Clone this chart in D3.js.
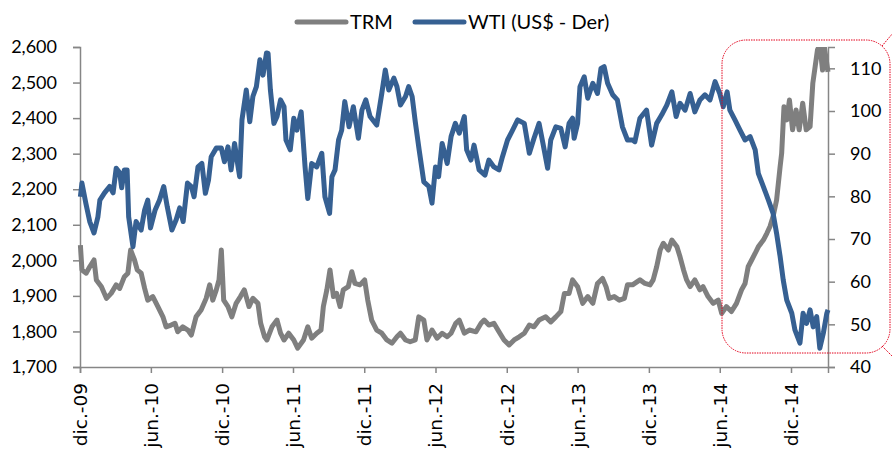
<!DOCTYPE html>
<html>
<head>
<meta charset="utf-8">
<script src="https://cdn.jsdelivr.net/npm/d3@7"></script>
<style>
  body { margin: 0; background: #fff; }
  text { font-family: Lato, "Noto Sans", sans-serif; }
</style>
</head>
<body>
<div id="chart"></div>
<script>
// TRM (COP per US$, left axis)
const trmDates = ["2009-12-02","2009-12-06","2009-12-17","2009-12-26","2010-01-06","2010-01-12","2010-01-25","2010-02-07","2010-02-19","2010-03-04","2010-03-13","2010-03-25","2010-04-03","2010-04-10","2010-04-20","2010-04-27","2010-05-07","2010-05-16","2010-05-24","2010-06-06","2010-06-19","2010-07-02","2010-07-10","2010-07-23","2010-08-02","2010-08-09","2010-08-22","2010-09-04","2010-09-13","2010-09-25","2010-10-08","2010-10-21","2010-10-30","2010-11-07","2010-11-16","2010-11-23","2010-11-29","2010-12-05","2010-12-16","2010-12-26","2011-01-06","2011-01-17","2011-01-27","2011-02-08","2011-02-18","2011-03-03","2011-03-10","2011-03-20","2011-03-26","2011-04-08","2011-04-21","2011-04-30","2011-05-09","2011-05-21","2011-06-03","2011-06-13","2011-06-28","2011-07-09","2011-07-19","2011-08-01","2011-08-12","2011-08-18","2011-08-27","2011-09-04","2011-09-13","2011-09-21","2011-09-30","2011-10-08","2011-10-21","2011-10-30","2011-11-07","2011-11-20","2011-12-02","2011-12-10","2011-12-20","2012-01-02","2012-01-15","2012-01-28","2012-02-10","2012-02-23","2012-03-03","2012-03-16","2012-03-28","2012-04-10","2012-04-19","2012-05-02","2012-05-10","2012-05-23","2012-06-05","2012-06-18","2012-07-01","2012-07-11","2012-07-23","2012-08-01","2012-08-14","2012-08-27","2012-09-13","2012-09-26","2012-10-04","2012-10-16","2012-10-29","2012-11-11","2012-11-24","2012-12-07","2012-12-20","2013-01-02","2013-01-15","2013-01-28","2013-02-09","2013-02-22","2013-03-11","2013-03-24","2013-04-06","2013-04-19","2013-04-28","2013-05-10","2013-05-19","2013-06-01","2013-06-14","2013-06-27","2013-07-10","2013-07-22","2013-08-04","2013-08-13","2013-08-21","2013-09-03","2013-09-16","2013-09-29","2013-10-07","2013-10-20","2013-11-08","2013-11-21","2013-12-04","2013-12-12","2013-12-21","2013-12-30","2014-01-07","2014-01-20","2014-01-29","2014-02-11","2014-02-19","2014-02-28","2014-03-08","2014-03-17","2014-03-29","2014-04-11","2014-04-19","2014-05-02","2014-05-15","2014-05-28","2014-06-06","2014-06-18","2014-07-01","2014-07-14","2014-07-27","2014-08-05","2014-08-13","2014-08-22","2014-08-31","2014-09-08","2014-09-21","2014-09-30","2014-10-08","2014-10-16","2014-10-25","2014-11-03","2014-11-07","2014-11-13","2014-11-20","2014-11-27","2014-12-05","2014-12-14","2014-12-22","2014-12-31","2015-01-09","2015-01-19","2015-01-26","2015-02-01","2015-02-07","2015-02-13","2015-02-20","2015-02-24","2015-03-06"];
const trmValues = [2043,1973,1964,1982,2001,1945,1926,1893,1907,1931,1921,1954,1964,2029,2001,1973,1964,1921,1888,1898,1870,1841,1813,1818,1823,1799,1813,1804,1790,1841,1860,1893,1931,1888,1917,1945,2029,1888,1870,1841,1879,1898,1917,1870,1893,1879,1823,1785,1776,1813,1832,1795,1776,1795,1776,1753,1776,1813,1781,1795,1804,1870,1917,1973,1898,1907,1870,1917,1926,1968,1935,1931,1945,1888,1832,1804,1795,1776,1767,1785,1795,1776,1771,1776,1841,1832,1776,1804,1781,1795,1785,1795,1823,1832,1795,1804,1799,1823,1832,1818,1823,1799,1776,1762,1776,1785,1795,1818,1813,1832,1841,1827,1841,1856,1907,1907,1945,1926,1879,1898,1879,1935,1949,1926,1893,1898,1888,1893,1931,1931,1945,1935,1931,1945,1982,2029,2048,2029,2057,2038,2010,1973,1945,1926,1945,1917,1926,1898,1879,1888,1851,1870,1856,1879,1917,1935,1982,2001,2020,2038,2057,2076,2095,2123,2170,2263,2301,2432,2395,2451,2367,2423,2367,2442,2367,2376,2498,2545,2592,2606,2535,2605,2530];

// WTI (US$ per barrel, right axis)
const wtiDates = ["2009-12-02","2009-12-06","2009-12-16","2009-12-26","2010-01-06","2010-01-16","2010-01-21","2010-02-02","2010-02-15","2010-02-24","2010-03-04","2010-03-13","2010-03-18","2010-03-25","2010-04-01","2010-04-05","2010-04-16","2010-04-24","2010-05-07","2010-05-16","2010-05-24","2010-05-31","2010-06-12","2010-06-23","2010-07-04","2010-07-13","2010-07-25","2010-08-05","2010-08-14","2010-08-23","2010-09-03","2010-09-13","2010-09-20","2010-09-30","2010-10-10","2010-10-19","2010-10-27","2010-11-03","2010-11-16","2010-11-29","2010-12-07","2010-12-16","2010-12-24","2011-01-02","2011-01-11","2011-01-15","2011-01-21","2011-02-01","2011-02-10","2011-02-18","2011-02-27","2011-03-08","2011-03-16","2011-03-25","2011-03-29","2011-04-04","2011-04-13","2011-04-21","2011-04-30","2011-05-09","2011-05-14","2011-05-25","2011-06-03","2011-06-11","2011-06-22","2011-07-02","2011-07-09","2011-07-19","2011-08-01","2011-08-14","2011-08-22","2011-09-03","2011-09-09","2011-09-17","2011-09-26","2011-10-04","2011-10-12","2011-10-23","2011-11-03","2011-11-16","2011-11-25","2011-12-05","2011-12-16","2012-01-02","2012-01-15","2012-01-24","2012-02-02","2012-02-15","2012-02-23","2012-03-03","2012-03-16","2012-03-24","2012-04-02","2012-04-10","2012-04-20","2012-05-02","2012-05-15","2012-05-23","2012-06-01","2012-06-09","2012-06-18","2012-07-01","2012-07-11","2012-07-22","2012-08-01","2012-08-14","2012-08-20","2012-08-31","2012-09-08","2012-09-21","2012-10-06","2012-10-16","2012-10-29","2012-11-11","2012-11-20","2012-12-03","2012-12-16","2012-12-29","2013-01-15","2013-01-28","2013-02-09","2013-02-22","2013-03-04","2013-03-16","2013-03-24","2013-04-06","2013-04-19","2013-04-30","2013-05-10","2013-05-19","2013-05-23","2013-06-01","2013-06-07","2013-06-18","2013-06-27","2013-07-10","2013-07-22","2013-07-31","2013-08-08","2013-08-17","2013-08-30","2013-09-11","2013-09-24","2013-10-07","2013-10-20","2013-10-26","2013-11-08","2013-11-25","2013-12-08","2013-12-21","2014-01-03","2014-01-16","2014-01-29","2014-02-09","2014-02-19","2014-03-04","2014-03-17","2014-03-29","2014-04-11","2014-04-24","2014-05-07","2014-05-20","2014-06-01","2014-06-10","2014-06-20","2014-06-27","2014-07-10","2014-07-23","2014-08-05","2014-08-18","2014-08-31","2014-09-08","2014-09-21","2014-10-04","2014-10-16","2014-10-25","2014-11-03","2014-11-11","2014-11-20","2014-12-03","2014-12-11","2014-12-24","2015-01-01","2015-01-10","2015-01-19","2015-01-27","2015-02-05","2015-02-13","2015-02-22","2015-03-03","2015-03-06"];
const wtiValues = [79.9,83.1,78.4,74.1,71.4,75.2,79.1,80.8,82.3,80.8,86.6,85.5,82.0,86.2,86.2,75.2,68.2,74.1,72.1,76.8,79.1,72.6,76.8,79.1,82.3,77.6,72.1,74.5,77.3,74.1,83.1,82.3,79.9,86.9,87.7,80.7,83.8,89.3,91.3,91.3,88.1,91.6,86.2,92.4,86.9,84.6,97.9,104.9,97.5,103.4,105.7,112.0,108.4,113.6,113.5,104.9,97.1,98.7,102.6,101.0,93.2,90.9,98.3,95.5,99.8,86.9,79.5,87.7,86.9,90.1,79.9,76.0,84.6,86.2,93.2,95.5,102.2,96.3,101.0,93.6,100.2,102.6,98.7,96.7,104.1,109.6,104.9,107.7,105.7,101.4,103.4,105.7,103.4,97.5,90.9,83.4,82.3,78.4,86.9,84.6,92.4,87.7,94.0,97.1,94.8,98.7,90.9,88.5,92.0,86.2,85.0,88.5,86.9,86.2,89.3,93.2,95.5,97.9,97.1,90.1,93.6,97.1,92.4,86.6,93.2,96.3,95.9,91.6,97.1,98.3,93.6,97.1,105.7,108.0,103.0,106.5,104.1,110.0,110.4,106.5,103.8,102.6,96.3,93.2,93.2,92.8,98.3,100.2,92.0,97.1,99.1,101.4,104.5,98.7,101.8,100.2,104.1,99.8,102.6,103.8,102.6,106.9,104.1,101.0,104.5,100.2,97.9,95.5,93.2,94.0,90.9,85.4,82.3,79.1,76.0,71.3,65.9,60.4,55.7,52.6,48.7,45.6,52.6,50.2,53.4,49.4,51.8,44.4,47.9,52.6,53.4];

// axes
const xDomain = ["2009-12-01", "2015-03-06"];
const xTickDates = ["2009-12-01","2010-06-01","2010-12-01","2011-06-01","2011-12-01","2012-06-01","2012-12-01","2013-06-01","2013-12-01","2014-06-01","2014-12-01"];
const xTickLabels = ["dic.-09","jun.-10","dic.-10","jun.-11","dic.-11","jun.-12","dic.-12","jun.-13","dic.-13","jun.-14","dic.-14"];
const leftTicks = [1700,1800,1900,2000,2100,2200,2300,2400,2500,2600];
const rightTicks = [40,50,60,70,80,90,100,110];
const seriesNames = ["TRM", "WTI (US$ - Der)"];
const seriesColors = ["#7f7f7f", "#366092"];

const W = 892, H = 455;
const margin = { top: 47, right: 64, bottom: 88, left: 80 };
const width = W - margin.left - margin.right,
      height = H - margin.top - margin.bottom;

const parse = d3.timeParse("%Y-%m-%d");
const trm = trmDates.map((d, i) => ({ date: parse(d), value: trmValues[i] }));
const wti = wtiDates.map((d, i) => ({ date: parse(d), value: wtiValues[i] }));

const svg = d3.select("#chart").append("svg")
    .attr("width", W)
    .attr("height", H);

const g = svg.append("g")
    .attr("transform", `translate(${margin.left},${margin.top})`);

const x = d3.scaleTime().domain(xDomain.map(parse)).range([0, width]);
const yL = d3.scaleLinear().domain([1700, 2600]).range([height, 0]);
const yR = d3.scaleLinear().domain([40, 115]).range([height, 0]);

const axisColor = "#868686";

// clip so the lines stop at the plot edges
g.append("clipPath").attr("id", "plot")
  .append("rect").attr("x", -3).attr("y", 0).attr("width", width + 6).attr("height", height);

// left axis
const gl = g.append("g")
    .call(d3.axisLeft(yL).tickValues(leftTicks).tickSize(7).tickPadding(16).tickFormat(d3.format(",")));
// right axis
const gr = g.append("g")
    .attr("transform", `translate(${width},0)`)
    .call(d3.axisRight(yR).tickValues(rightTicks).tickSize(7).tickPadding(15));
// x axis
const gx = g.append("g")
    .attr("transform", `translate(0,${height})`)
    .call(d3.axisBottom(x).tickValues(xTickDates.map(parse)).tickSize(6)
      .tickFormat((d, i) => xTickLabels[i]));

[gl, gr, gx].forEach(a => {
  a.select(".domain").attr("stroke", axisColor).attr("stroke-width", 1.5);
  a.selectAll(".tick line").attr("stroke", axisColor).attr("stroke-width", 1.5);
  a.selectAll("text").attr("fill", "#000").style("font-size", "18px")
    .style("font-family", "Lato, 'Noto Sans', sans-serif");
});

gx.selectAll("text")
    .attr("transform", "rotate(-90)")
    .attr("x", -16)
    .attr("y", 0)
    .attr("dy", "0.35em")
    .style("text-anchor", "end")
    .style("font-family", "'DejaVu Sans', Verdana, sans-serif")
    .style("font-size", "18.5px");

// lines
const lineL = d3.line().x(d => x(d.date)).y(d => yL(d.value));
const lineR = d3.line().x(d => x(d.date)).y(d => yR(d.value));

const lines = g.append("g").attr("clip-path", "url(#plot)");
lines.append("path")
    .datum(trm)
    .attr("fill", "none")
    .attr("stroke", seriesColors[0])
    .attr("stroke-width", 5)
    .attr("stroke-linejoin", "round")
    .attr("d", lineL);
lines.append("path")
    .datum(wti)
    .attr("fill", "none")
    .attr("stroke", seriesColors[1])
    .attr("stroke-width", 5)
    .attr("stroke-linejoin", "round")
    .attr("d", lineR);

// legend
const legend = svg.append("g").attr("transform", "translate(297,22)");
const legendX = [0, 118];
seriesNames.forEach((name, i) => {
  const item = legend.append("g").attr("transform", `translate(${legendX[i]},0)`);
  item.append("line")
      .attr("x1", 0).attr("x2", 49).attr("y1", 0).attr("y2", 0)
      .attr("stroke", seriesColors[i]).attr("stroke-width", 5)
      .attr("stroke-linecap", "round");
  item.append("text")
      .attr("x", 53).attr("y", 0).attr("dy", "0.35em")
      .style("font-size", "20px")
      .text(name);
});

// red dotted callout round the last months
const callout = svg.append("g")
    .attr("fill", "none")
    .attr("stroke", "#e3001b")
    .attr("stroke-width", 1)
    .attr("stroke-dasharray", "1.5,1");
callout.append("rect")
    .attr("x", 722).attr("y", 40)
    .attr("width", 168).attr("height", 313)
    .attr("rx", 24).attr("ry", 24);
callout.append("line").attr("x1", 882).attr("y1", 46).attr("x2", 893).attr("y2", 33);
callout.append("line").attr("x1", 882).attr("y1", 346).attr("x2", 893).attr("y2", 357);
</script>
</body>
</html>
